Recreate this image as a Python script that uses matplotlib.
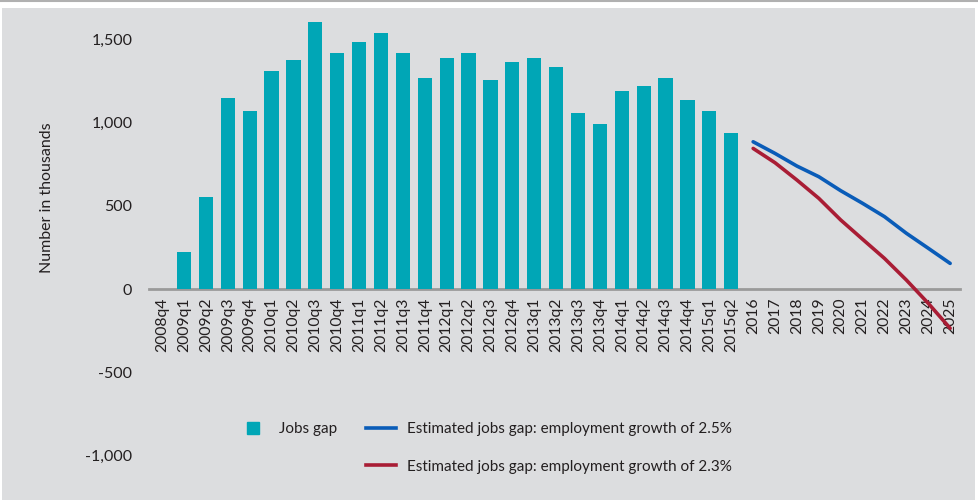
import matplotlib
matplotlib.use("Agg")
import matplotlib.pyplot as plt
from matplotlib.lines import Line2D
from matplotlib.patches import Rectangle, Patch

plt.rcParams['font.family'] = ['Lato', 'DejaVu Sans']

quarters = ['2008q4', '2009q1', '2009q2', '2009q3', '2009q4',
            '2010q1', '2010q2', '2010q3', '2010q4',
            '2011q1', '2011q2', '2011q3', '2011q4',
            '2012q1', '2012q2', '2012q3', '2012q4',
            '2013q1', '2013q2', '2013q3', '2013q4',
            '2014q1', '2014q2', '2014q3', '2014q4',
            '2015q1', '2015q2']
years = ['2016', '2017', '2018', '2019', '2020', '2021', '2022', '2023', '2024', '2025']

jobs_gap = [0, 222, 553, 1148, 1070,
            1310, 1376, 1605, 1418,
            1484, 1539, 1418, 1268,
            1388, 1418, 1256, 1364,
            1388, 1334, 1058, 992,
            1190, 1220, 1268, 1136,
            1070, 938]
gap_25 = [885, 815, 739, 675, 591, 515, 435, 335, 245, 154]
gap_23 = [845, 759, 655, 545, 415, 299, 184, 54, -86, -236]

labels = quarters + years
x_bar = list(range(len(quarters)))
x_line = list(range(len(quarters), len(labels)))

bg = '#dcdddf'
teal = '#00a6b6'
blue = '#0a5cb8'
red = '#a91d35'
txt = '#231f20'

fig = plt.figure(figsize=(9.79, 5.0), dpi=100, facecolor='white')
fig.patches.append(Rectangle((2/979, 0), 973/979, 492/500, transform=fig.transFigure,
                             facecolor=bg, edgecolor='none', zorder=-10))
fig.lines.append(Line2D([0, 1], [0.998, 0.998], transform=fig.transFigure, color='#b0b0b0', lw=1.5))

ax = fig.add_axes([149/979, 10/500, 811/979, 480/500])
ax.set_facecolor('none')

# spine position first: moving it resets the tick labels
for s in ['top', 'right', 'left']:
    ax.spines[s].set_visible(False)
ax.spines['bottom'].set_position(('data', 0))
ax.spines['bottom'].set_color('#9a9a9a')
ax.spines['bottom'].set_linewidth(2)
ax.spines['bottom'].set_zorder(1)

ax.bar(x_bar, jobs_gap, width=0.65, color=teal, zorder=2)
ax.plot(x_line, gap_25, color=blue, lw=2.6, solid_capstyle='round', zorder=3)
ax.plot(x_line, gap_23, color=red, lw=2.6, solid_capstyle='round', zorder=3)

ax.set_xlim(-0.6, len(labels) - 0.55)
ax.set_ylim(-1208, 1677)
ax.set_yticks([-1000, -500, 0, 500, 1000, 1500])
ax.set_yticklabels(['-1,000', '-500', '0', '500', '1,000', '1,500'])
ax.set_xticks(range(len(labels)))
ax.set_xticklabels(labels)
ax.tick_params(axis='x', length=0, pad=6, labelsize=11.3, labelcolor=txt, labelrotation=90)
ax.tick_params(axis='y', length=0, pad=12, labelsize=11.5, labelcolor=txt)

ax.set_ylabel('Number in thousands', fontsize=11.5, color=txt)
ax.yaxis.set_label_coords(-0.117, 0.61)

handles = [Line2D([], [], marker='s', ls='none', color=teal, markersize=9),
           Patch(facecolor='none', edgecolor='none'),
           Line2D([], [], color=blue, lw=2.6),
           Line2D([], [], color=red, lw=2.6)]
names = ['Jobs gap', '',
         'Estimated jobs gap: employment growth of 2.5%',
         'Estimated jobs gap: employment growth of 2.3%']
leg = fig.legend(handles, names, ncol=2, loc='upper left',
                 bbox_to_anchor=(238/979, 1 - 422/500), frameon=False,
                 fontsize=11, handlelength=2.0, handletextpad=0.7,
                 columnspacing=1.85, labelspacing=1.55, borderpad=0,
                 borderaxespad=0)
for t in leg.get_texts():
    t.set_color(txt)

fig.savefig('out.png', dpi=100, facecolor='white')
